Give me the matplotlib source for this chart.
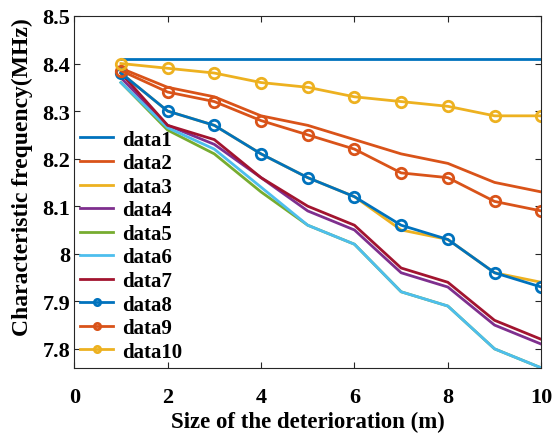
import matplotlib
matplotlib.use("Agg")
import matplotlib.pyplot as plt

# deterioration size (m)
x = [1, 2, 3, 4, 5, 6, 7, 8, 9, 10]

data1 = [8.41, 8.41, 8.41, 8.41, 8.41, 8.41, 8.41, 8.41, 8.41, 8.41]
data2 = [8.39, 8.35, 8.33, 8.29, 8.27, 8.24, 8.21, 8.19, 8.15, 8.13]
data3 = [8.38, 8.30, 8.27, 8.21, 8.16, 8.12, 8.05, 8.03, 7.96, 7.94]
data4 = [8.37, 8.27, 8.23, 8.16, 8.09, 8.05, 7.96, 7.93, 7.85, 7.81]
data5 = [8.36, 8.26, 8.21, 8.13, 8.06, 8.02, 7.92, 7.89, 7.80, 7.76]
data6 = [8.36, 8.265, 8.22, 8.14, 8.06, 8.02, 7.92, 7.89, 7.80, 7.76]
data7 = [8.38, 8.27, 8.24, 8.16, 8.10, 8.06, 7.97, 7.94, 7.86, 7.82]
data8 = [8.38, 8.30, 8.27, 8.21, 8.16, 8.12, 8.06, 8.03, 7.96, 7.93]
data9 = [8.385, 8.34, 8.32, 8.28, 8.25, 8.22, 8.17, 8.16, 8.11, 8.09]
data10 = [8.40, 8.39, 8.38, 8.36, 8.35, 8.33, 8.32, 8.31, 8.29, 8.29]

series = [data1, data2, data3, data4, data5, data6, data7, data8, data9, data10]
labels = ["data%d" % (i + 1) for i in range(10)]
colors = ["#0072BD", "#D95319", "#EDB120", "#7E2F8E", "#77AC30", "#4DBEEE",
          "#A2142F", "#0072BD", "#D95319", "#EDB120"]
markers = [None] * 7 + ["o", "o", "o"]

plt.rcParams["font.family"] = "Liberation Serif"
plt.rcParams["font.weight"] = "bold"

fig = plt.figure(figsize=(5.58, 4.35), dpi=100)
ax = fig.add_axes([0.133, 0.152, 0.837, 0.809])

for ys, lab, c, m in zip(series, labels, colors, markers):
    ax.plot(x, ys, color=c, lw=2.0, marker=m, ms=7.5, mfc="none", mew=2.0, label=lab)

ax.set_xlim(0, 10)
ax.set_ylim(7.76, 8.5)
ax.set_xticks([0, 2, 4, 6, 8, 10])
ax.set_xticklabels(["0", "2", "4", "6", "8", "10"])
ax.set_yticks([7.8, 7.9, 8.0, 8.1, 8.2, 8.3, 8.4, 8.5])
ax.set_yticklabels(["7.8", "7.9", "8", "8.1", "8.2", "8.3", "8.4", "8.5"])
ax.tick_params(direction="in", top=True, right=True, labelsize=16, length=4,
               color="#262626")
ax.tick_params(axis="x", pad=14)
ax.tick_params(axis="y", pad=3)
for s in ax.spines.values():
    s.set_color("#262626")
    s.set_linewidth(0.8)

ax.set_xlabel("Size of the deterioration (m)", fontsize=16.5, fontweight="bold", labelpad=2.5)
ax.set_ylabel("Characteristic frequency(MHz)", fontsize=17, fontweight="bold")
ax.yaxis.set_label_coords(-0.088, 0.545)

ax.legend(loc="lower left", frameon=False, handlelength=1.55, handletextpad=0.45,
          labelspacing=0.17, borderaxespad=0.0, borderpad=0.3, markerscale=0.6,
          prop={"family": "Liberation Serif", "weight": "bold", "size": 15})

fig.savefig("out.png", dpi=100)
